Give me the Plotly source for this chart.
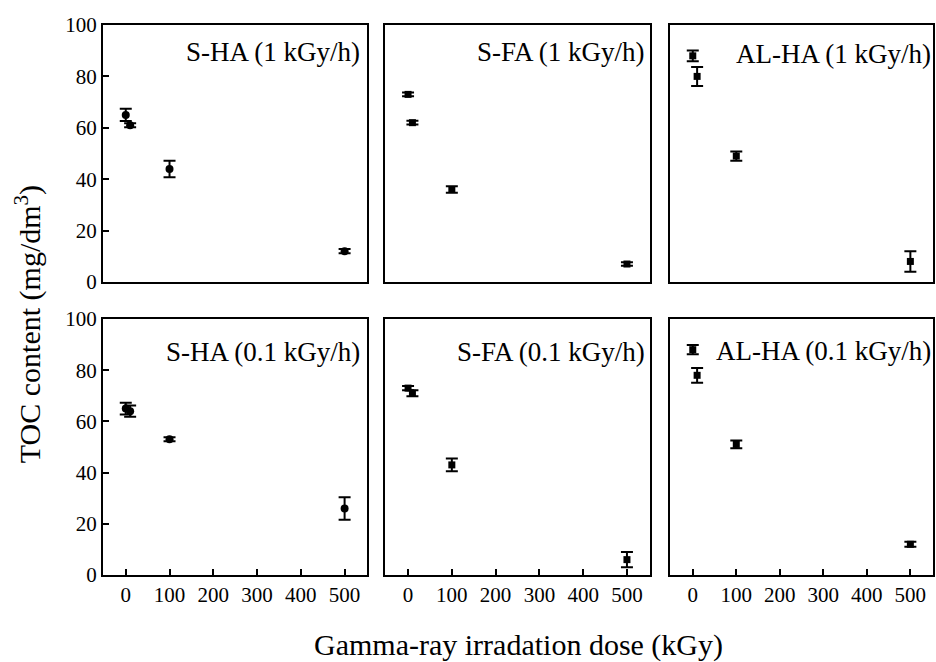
import plotly.graph_objects as go

# ---------------- data ----------------
dose = [0, 10, 100, 500]

sha_1 = [65, 61, 44, 12]
sha_1_err = [2.4, 0.8, 3.2, 0.8]
sfa_1 = [73, 62, 36, 7]
sfa_1_err = [0.7, 0.7, 1.3, 0.7]
alha_1 = [88, 80, 49, 8]
alha_1_err = [2.1, 3.7, 1.8, 4.0]

sha_01 = [65, 64, 53, 26]
sha_01_err = [2.3, 2.2, 0.8, 4.4]
sfa_01 = [73, 71, 43, 6]
sfa_01_err = [0.8, 1.2, 2.5, 3.0]
alha_01 = [88, 78, 51, 12]
alha_01_err = [1.8, 2.9, 1.5, 1.0]

panel_labels = ["S-HA (1 kGy/h)", "S-FA (1 kGy/h)", "AL-HA (1 kGy/h)",
                "S-HA (0.1 kGy/h)", "S-FA (0.1 kGy/h)", "AL-HA (0.1 kGy/h)"]
y_ticks = [0, 20, 40, 60, 80, 100]
x_ticks = [0, 100, 200, 300, 400, 500]
y_title = "TOC content (mg/dm<sup>3</sup>)"
x_title = "Gamma-ray irradation dose (kGy)"

series = [
    (sha_1, sha_1_err, "circle", 8),
    (sfa_1, sfa_1_err, "square", 7),
    (alha_1, alha_1_err, "square", 7),
    (sha_01, sha_01_err, "circle", 8),
    (sfa_01, sfa_01_err, "square", 7),
    (alha_01, alha_01_err, "square", 7),
]

FONT = "Liberation Serif, Times New Roman, serif"

x_domains = [[0.0, 0.3185], [0.3401, 0.6587], [0.6833, 1.0]]
y_domains = [[0.5327, 1.0], [0.0, 0.4655]]

fig = go.Figure()
layout = dict(
    width=936, height=662,
    margin=dict(l=103, r=1, t=25, b=87),
    paper_bgcolor="white", plot_bgcolor="white",
    showlegend=False,
    font=dict(family=FONT, color="black", size=21),
)

annotations = []
label_yshift = [-26.5, -26.5, -29, -33, -33, -32]
label_xshift = [-5, -3, 0, -5, -3, 0]

for i, (vals, errs, sym, size) in enumerate(series):
    row = i // 3
    col = i % 3
    idx = i + 1
    xa = "x" if idx == 1 else f"x{idx}"
    ya = "y" if idx == 1 else f"y{idx}"
    fig.add_trace(go.Scatter(
        x=dose, y=vals, mode="markers",
        marker=dict(symbol=sym, size=size, color="black"),
        error_y=dict(type="data", array=errs, visible=True,
                     color="black", thickness=2, width=6),
        xaxis=xa, yaxis=ya, cliponaxis=False,
    ))
    xkey = "xaxis" if idx == 1 else f"xaxis{idx}"
    ykey = "yaxis" if idx == 1 else f"yaxis{idx}"
    bottom = row == 1
    left = col == 0
    layout[xkey] = dict(
        domain=x_domains[col], anchor=ya, range=[-52, 552],
        showline=True, mirror=True, linecolor="black", linewidth=2,
        showgrid=False, zeroline=False,
        tickmode="array", tickvals=x_ticks,
        ticktext=[str(t) for t in x_ticks],
        ticks="inside" if bottom else "", ticklen=6, tickwidth=2,
        tickcolor="black",
        showticklabels=bottom,
        tickfont=dict(family=FONT, size=21, color="black"),
    )
    layout[ykey] = dict(
        domain=y_domains[row], anchor=xa, range=[0, 100],
        showline=True, mirror=True, linecolor="black", linewidth=2,
        showgrid=False, zeroline=False,
        tickmode="array", tickvals=y_ticks,
        ticktext=[str(t) for t in y_ticks],
        ticks="inside" if left else "", ticklen=6, tickwidth=2,
        tickcolor="black",
        showticklabels=left,
        tickfont=dict(family=FONT, size=21, color="black"),
    )
    annotations.append(dict(
        text=panel_labels[i], xref=f"{xa} domain", yref=f"{ya} domain",
        x=1, y=1, xanchor="right", yanchor="middle",
        xshift=label_xshift[i], yshift=label_yshift[i],
        showarrow=False, font=dict(family=FONT, size=27, color="black"),
    ))

annotations.append(dict(
    text=y_title, xref="paper", yref="paper", x=0, y=0.456,
    xanchor="center", yanchor="middle", xshift=-75, textangle=-90,
    showarrow=False, font=dict(family=FONT, size=30, color="black"),
))
annotations.append(dict(
    text=x_title, xref="paper", yref="paper", x=0.5, y=-0.127,
    xanchor="center", yanchor="middle",
    showarrow=False, font=dict(family=FONT, size=30, color="black"),
))
layout["annotations"] = annotations
fig.update_layout(**layout)

fig.write_html(
    "out.html",
    config={"displayModeBar": False},
    post_script="document.body.style.margin='0';document.body.style.overflow='hidden';",
)
